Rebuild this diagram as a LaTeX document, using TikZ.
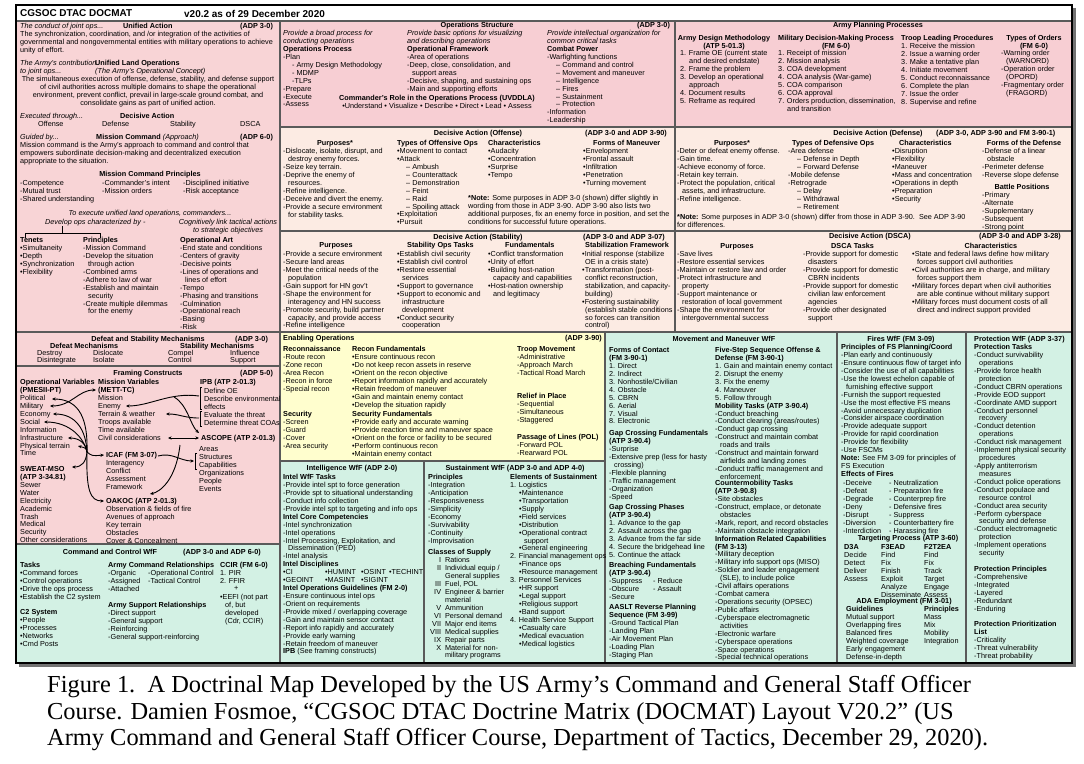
\documentclass[tikz,border=0pt]{standalone}
\usepackage{fontspec}
\setmainfont{Liberation Sans}
\newfontfamily\capfont{Liberation Serif}
\usetikzlibrary{arrows.meta}
\definecolor{pinkL}{HTML}{F8D4D6}
\definecolor{pinkT}{HTML}{F7CED3}
\definecolor{peach}{HTML}{FCEBE3}
\definecolor{yelB}{HTML}{FFFECE}
\definecolor{mint}{HTML}{D3F1E4}
\definecolor{rulec}{HTML}{5A5A5A}
\newcommand{\dfs}{\fontsize{7.3}{7.95}\selectfont}
\newcommand{\myi}{\hspace*{5bp}}
\newcommand{\myii}{\hspace*{9bp}}
\begin{document}
\begin{tikzpicture}[x=1bp,y=-1bp,
  t/.style={anchor=north west,inner sep=0pt,align=left,font=\dfs,yshift=2.8bp},
  tc/.style={t,anchor=north,align=center},
  tb/.style={t,font=\dfs\bfseries},
  tbc/.style={tc,font=\dfs\bfseries},
  sep/.style={draw=rulec,line width=1.1bp},
  arr/.style={line width=0.9bp,-{Stealth[length=3.6bp,width=3.2bp]}},
  arrb/.style={line width=0.9bp,{Stealth[length=3.6bp,width=3.2bp]}-{Stealth[length=3.6bp,width=3.2bp]}},
  brk/.style={line width=0.6bp}]
\useasboundingbox (0,0) rectangle (1084,764);
\fill[white] (0,0) rectangle (1084,764);
% shadow and fills
\fill[black!55] (19,8) rectangle (1076,667);
\fill[white] (16,5) rectangle (1072,21);
\fill[pinkL] (16,21) rectangle (280,544);
\fill[mint] (16,544) rectangle (280,663);
\fill[pinkT] (280,21) rectangle (1072,127);
\fill[peach] (280,127) rectangle (1072,332);
\fill[yelB] (280,332) rectangle (605,461);
\fill[mint] (280,461) rectangle (605,663);
\fill[mint] (605,332) rectangle (1072,663);
% separators
\draw[sep] (16,21) -- (1072,21);
\draw[sep] (280,21) -- (280,663);
\draw[sep] (675,21) -- (675,332);
\draw[sep] (280,127) -- (1072,127);
\draw[sep] (280,231) -- (1072,231);
\draw[sep] (16,332) -- (1072,332);
\draw[sep] (16,366) -- (280,366);
\draw[sep] (16,544) -- (280,544);
\draw[sep] (280,461) -- (605,461);
\draw[sep] (605,332) -- (605,663);
\draw[sep] (424,461) -- (424,663);
\draw[sep] (837,332) -- (837,663);
\draw[sep] (966,332) -- (966,663);
\draw[line width=2.4bp] (16,5) rectangle (1072,663);
% header
\node[anchor=west,inner sep=0pt,font=\fontsize{10}{12}\selectfont\bfseries] (hdr) at (20,13.5) {CGSOC DTAC DOCMAT};
\node[anchor=west,inner sep=0pt,font=\fontsize{10}{12}\selectfont\bfseries] (ver) at (184,13.5) {v20.2 as of 29 December 2020};
% ---------------- left column
\node[t] (ua0) at (20,26) {\textit{The conduct of joint ops...}};
\node[tb] (ua1) at (123,26) {Unified Action};
\node[tb] (ua2) at (240,26) {(ADP 3-0)};
\node[t] (ua3) at (20,34) {The synchronization, coordination, and /or integration of the activities of\\governmental and nongovernmental entities with military operations to achieve\\unity of effort.};
\node[t] (ulo0) at (20,63) {\textit{The Army's contribution}};
\node[tb] (ulo1) at (95,63) {Unified Land Operations};
\node[t] (ulo2) at (20,71) {\textit{to joint ops...}};
\node[t] (ulo3) at (95,71) {\textit{(The Army's Operational Concept)}};
\node[tc] (ulo4) at (148,79) {The simultaneous execution of offense, defense, stability, and defense support\\of civil authorities across multiple domains to shape the operational\\environment, prevent conflict, prevail in large-scale ground combat, and\\consolidate gains as part of unified action.};
\node[t] (dec0) at (20,116) {\textit{Executed through...}};
\node[tb] (dec1) at (120,116) {Decisive Action};
\node[t] (dec2) at (38,124) {Offense};
\node[t] (dec3) at (102,124) {Defense};
\node[t] (dec4) at (170,124) {Stability};
\node[t] (dec5) at (240,124) {DSCA};
\node[t] (mc0) at (20,137) {\textit{Guided by...}};
\node[t] (mc1) at (96,137) {\textbf{Mission Command} \textit{(Approach)}};
\node[tb] (mc2) at (240,137) {(ADP 6-0)};
\node[t] (mc3) at (20,145) {Mission command is the Army's approach to command and control that\\empowers subordinate decision-making and decentralized execution\\appropriate to the situation.};
\node[tbc] (mcp0) at (150,174) {Mission Command Principles};
\node[t] (mcp1) at (20,183) {-Competence\\-Mutual trust\\-Shared understanding};
\node[t] (mcp2) at (102,183) {-Commander's intent\\-Mission orders};
\node[t] (mcp3) at (183,183) {-Disciplined initiative\\-Risk acceptance};
\node[tc] (ex0) at (150,213) {\textit{To execute unified land operations, commanders...}};
\node[t] (ex1) at (45,222) {\textit{Develop ops characterized by -}};
\node[tc] (ex2) at (228,222) {\textit{Cognitively link tactical actions}\\\textit{to strategic objectives}};
\draw[brk] (25,238) -- (25,233) -- (100,233) -- (100,238);
\draw[brk] (62,233) -- (62,226);
\node[t] (ten) at (20,240) {\textbf{Tenets}\\•Simultaneity\\•Depth\\•Synchronization\\•Flexibility};
\node[t] (pri) at (83,240) {\textbf{Principles}\\-Mission Command\\-Develop the situation\\\myi through action\\-Combined arms\\-Adhere to law of war\\-Establish and maintain\\\myi security\\-Create multiple dilemmas\\\myi for the enemy};
\node[t] (opa) at (180,240) {\textbf{Operational Art}\\-End state and conditions\\-Centers of gravity\\-Decisive points\\-Lines of operations and\\\myi lines of effort\\-Tempo\\-Phasing and transitions\\-Culmination\\-Operational reach\\-Basing\\-Risk};
% defeat & stability
\node[tbc] (dsm0) at (148,339) {Defeat and Stability Mechanisms};
\node[tb] (dsm1) at (235,339) {(ADP 3-0)};
\node[tb] (dm0) at (50,346) {Defeat Mechanisms};
\node[tb] (sm0) at (180,346) {Stability Mechanisms};
\node[t,font=\fontsize{7.3}{7.3}\selectfont] (dm1) at (37,353) {Destroy\\Disintegrate};
\node[t,font=\fontsize{7.3}{7.3}\selectfont] (dm2) at (93,353) {Dislocate\\Isolate};
\node[t,font=\fontsize{7.3}{7.3}\selectfont] (sm1) at (168,353) {Compel\\Control};
\node[t,font=\fontsize{7.3}{7.3}\selectfont] (sm2) at (230,353) {Influence\\Support};
% framing constructs
\node[tbc] (fc0) at (148,373) {Framing Constructs};
\node[tb] (fc1) at (240,373) {(ADP 5-0)};
\node[t] (ov) at (20,382) {\textbf{Operational Variables}\\\textbf{(PMESII-PT)}\\Political\\Military\\Economy\\Social\\Information\\Infrastructure\\Physical terrain\\Time};
\node[t] (sw) at (20,469) {\textbf{SWEAT-MSO}\\\textbf{(ATP 3-34.81)}\\Sewer\\Water\\Electricity\\Academic\\Trash\\Medical\\Security\\Other considerations};
\node[t] (mv) at (98,382) {\textbf{Mission Variables}\\\textbf{(METT-TC)}\\Mission\\Enemy\\Terrain \& weather\\Troops available\\Time available\\Civil considerations};
\node[tb] (ipb0) at (200,382) {IPB (ATP 2-01.3)};
\node[t] (ipb1) at (204,391) {Define OE\\Describe environmental\\effects};
\node[t] (ipb2) at (204,414.5) {Evaluate the threat\\Determine threat COAs};
\node[tb] (asc0) at (201,438) {ASCOPE (ATP 2-01.3)};
\node[t] (asc1) at (199,449) {Areas\\Structures\\Capabilities\\Organizations\\People\\Events};
\node[t] (icaf) at (106,455) {\textbf{ICAF (FM 3-07)}\\Interagency\\Conflict\\Assessment\\Framework};
\node[t] (oak) at (106,501) {\textbf{OAKOC (ATP 2-01.3)}\\Observation \& fields of fire\\Avenues of approach\\Key terrain\\Obstacles\\Cover \& Concealment};
\draw[brk] (202,387) -- (200,387) -- (200,409) -- (202,409);
\draw[brk] (202,411) -- (200,411) -- (200,426) -- (202,426);
\draw[brk] (197,453) -- (195,453) -- (195,469) -- (197,469);
\coordinate (cPol) at (52,399);
\coordinate (cMil) at (50,406);
\coordinate (cEco) at (53,414);
\coordinate (cSoc) at (44,422);
\coordinate (cInf) at (68,438);
\coordinate (cPhy) at (78,446);
\coordinate (cMet) at (96,390);
\coordinate (cTr) at (87,452);
\coordinate (cSw) at (72,467);
\coordinate (cIc) at (104,455);
\coordinate (cOa) at (104,501);
\coordinate (cEn) at (126,406);
\coordinate (cTw) at (166,414);
\coordinate (cCc) at (168,438);
\coordinate (cAs) at (199,438);
\coordinate (cB1) at (199,396);
\coordinate (cB2) at (199,418);
\coordinate (cB3) at (194,461);
\draw[arrb] (cMil) .. controls (72,406) and (78,390) .. (cMet);
\draw[arr] (cTr) .. controls (88,420) and (80,399) .. (cPol);
\draw[arr] (cTr) .. controls (86,430) and (76,414) .. (cEco);
\draw[arr] (cTr) .. controls (84,438) and (70,422) .. (cSoc);
\draw[arr] (cTr) .. controls (86,444) and (80,438) .. (cInf);
\draw[arr] (cTr) .. controls (86,448) .. (cPhy);
\draw[arr] (cTr) .. controls (86,462) and (82,467) .. (cSw);
\draw[arr] (cTr) .. controls (92,456) .. (cIc);
\draw[arr] (cTr) .. controls (86,490) and (90,501) .. (cOa);
\draw[arr] (cB1) .. controls (170,392) and (150,406) .. (cEn);
\draw[arr] (cB2) .. controls (184,418) and (180,414) .. (cTw);
\draw[arr] (174,397) .. controls (188,405) and (190,425) .. (199,433);
\draw[arrb] (cCc) -- (cAs);
\draw[arr] (158,456) .. controls (172,452) and (180,461) .. (cB3);
\draw[arr] (180,445) .. controls (176,480) and (160,492) .. (150,494);
% command and control wff
\node[tbc] (c2t) at (110,552) {Command and Control WfF};
\node[tb] (c2a) at (183,552) {(ADP 3-0 and ADP 6-0)};
\node[t] (c2k) at (20,565) {\textbf{Tasks}\\•Command forces\\•Control operations\\•Drive the ops process\\•Establish the C2 system};
\node[t] (c2s) at (20,612) {\textbf{C2 System}\\•People\\•Processes\\•Networks\\•Cmd Posts};
\node[t] (acr) at (108,565) {\textbf{Army Command Relationships}\\-Organic\\-Assigned\\-Attached};
\node[t] (acr2) at (148,573) {-Operational Control\\-Tactical Control};
\node[t] (asr) at (108,605) {\textbf{Army Support Relationships}\\-Direct support\\-General support\\-Reinforcing\\-General support-reinforcing};
\node[t] (ccir) at (220,565) {\textbf{CCIR (FM 6-0)}\\1. PIR\\2. FFIR};
\node[t] (ccp) at (234,589) {+};
\node[t] (eefi) at (220,597) {•EEFI (not part\\\myi of, but\\\myi developed\\\myi (Cdr, CCIR)};
% ---------------- operations structure
\node[tbc] (os0) at (477,25) {Operations Structure};
\node[tb] (os1) at (637,25) {(ADP 3-0)};
\node[t] (opp) at (283,33) {\textit{Provide a broad process for}\\\textit{conducting operations}\\\textbf{Operations Process}\\-Plan\\\myii - Army Design Methodology\\\myii - MDMP\\\myii -TLPs\\-Prepare\\-Execute\\-Assess};
\node[t] (opf) at (407,33) {\textit{Provide basic options for visualizing}\\\textit{and describing operations}\\\textbf{Operational Framework}\\-Area of operations\\-Deep, close, consolidation, and\\\myi support areas\\-Decisive, shaping, and sustaining ops\\-Main and supporting efforts};
\node[t] (cpw) at (547,33) {\textit{Provide intellectual organization for}\\\textit{common critical tasks}\\\textbf{Combat Power}\\-Warfighting functions\\\myii – Command and control\\\myii – Movement and maneuver\\\myii – Intelligence\\\myii – Fires\\\myii – Sustainment\\\myii – Protection\\-Information\\-Leadership};
\node[tc] (uvd) at (437,98) {\textbf{Commander's Role in the Operations Process (UVDDLA)}\\•Understand • Visualize • Describe • Direct • Lead • Assess};
% ---------------- army planning processes
\node[tbc] (app) at (878,25) {Army Planning Processes};
\node[tbc] (adm0) at (724,38) {Army Design Methodology\\(ATP 5-01.3)};
\node[t] (adm1) at (680,53) {1. Frame OE (current state\\\myii and desired endstate)\\2. Frame the problem\\3. Develop an operational\\\myii approach\\4. Document results\\5. Reframe as required};
\node[tbc] (mdm0) at (836,38) {Military Decision-Making Process\\(FM 6-0)};
\node[t] (mdm1) at (778,53) {1. Receipt of mission\\2. Mission analysis\\3. COA development\\4. COA analysis (War-game)\\5. COA comparison\\6. COA approval\\7. Orders production, dissemination,\\\myii and transition};
\node[t] (tlp) at (901,38) {\textbf{Troop Leading Procedures}\\1. Receive the mission\\2. Issue a warning order\\3. Make a tentative plan\\4. Initiate movement\\5. Conduct reconnaissance\\6. Complete the plan\\7. Issue the order\\8. Supervise and refine};
\node[tbc] (too0) at (1034,38) {Types of Orders\\(FM 6-0)};
\node[t] (too1) at (1001,53) {-Warning order\\\myi (WARNORD)\\-Operation order\\\myi (OPORD)\\-Fragmentary order\\\myi (FRAGORD)};
% ---------------- offense
\node[tbc] (off0) at (478,133) {Decisive Action (Offense)};
\node[tb] (off1) at (585,133) {(ADP 3-0 and ADP 3-90)};
\node[tbc] (offp0) at (335,143) {Purposes*};
\node[t] (offp1) at (283,151) {-Dislocate, isolate, disrupt, and\\\myi destroy enemy forces.\\-Seize key terrain.\\-Deprive the enemy of\\\myi resources.\\-Refine intelligence.\\-Deceive and divert the enemy.\\-Provide a secure environment\\\myi for stability tasks.};
\node[t] (offt) at (397,143) {\textbf{Types of Offensive Ops}\\•Movement to contact\\•Attack\\\myii – Ambush\\\myii – Counterattack\\\myii – Demonstration\\\myii – Feint\\\myii – Raid\\\myii – Spoiling attack\\•Exploitation\\•Pursuit};
\node[t] (offc) at (488,143) {\textbf{Characteristics}\\•Audacity\\•Concentration\\•Surprise\\•Tempo};
\node[tb] (offm0) at (593,143) {Forms of Maneuver};
\node[t] (offm1) at (583,151) {•Envelopment\\•Frontal assault\\•Infiltration\\•Penetration\\•Turning movement};
\node[t] (offn) at (468,198) {\textbf{*Note:} Some purposes in ADP 3-0 (shown) differ slightly in\\wording from those in ADP 3-90. ADP 3-90 also lists two\\additional purposes, fix an enemy force in position, and set the\\conditions for successful future operations.};
% ---------------- defense
\node[tbc] (def0) at (878,133) {Decisive Action (Defense)};
\node[tb] (def1) at (936,133) {(ADP 3-0, ADP 3-90 and FM 3-90-1)};
\node[tbc] (defp0) at (732,143) {Purposes*};
\node[t] (defp1) at (677,151) {-Deter or defeat enemy offense.\\-Gain time.\\-Achieve economy of force.\\-Retain key terrain.\\-Protect the population, critical\\\myi assets, and infrastructure.\\-Refine intelligence.};
\node[tb] (deft0) at (792,143) {Types of Defensive Ops};
\node[t] (deft1) at (788,151) {-Area defense\\\myii – Defense in Depth\\\myii – Forward Defense\\-Mobile defense\\-Retrograde\\\myii – Delay\\\myii – Withdrawal\\\myii – Retirement};
\node[tb] (defc0) at (899,143) {Characteristics};
\node[t] (defc1) at (892,151) {•Disruption\\•Flexibility\\•Maneuver\\•Mass and concentration\\•Operations in depth\\•Preparation\\•Security};
\node[tbc] (deff0) at (1024,143) {Forms of the Defense};
\node[t] (deff1) at (982,151) {-Defense of a linear\\\myi obstacle\\-Perimeter defense\\-Reverse slope defense};
\node[tbc] (bp0) at (1022,187) {Battle Positions};
\node[t] (bp1) at (982,195) {-Primary\\-Alternate\\-Supplementary\\-Subsequent\\-Strong point};
\node[t] (defn) at (677,217) {\textbf{*Note:} Some purposes in ADP 3-0 (shown) differ from those in ADP 3-90.\ \ See ADP 3-90\\for differences.};
% ---------------- stability
\node[tbc] (stb0) at (478,237) {Decisive Action (Stability)};
\node[tb] (stb1) at (583,237) {(ADP 3-0 and ADP 3-07)};
\node[tbc] (stbp0) at (336,245) {Purposes};
\node[t] (stbp1) at (283,254) {-Provide a secure environment\\-Secure land areas\\-Meet the critical needs of the\\\myi population\\-Gain support for HN gov't\\-Shape the environment for\\\myi interagency and HN success\\-Promote security, build partner\\\myi capacity, and provide access\\-Refine intelligence};
\node[tb] (stbt0) at (407,245) {Stability Ops Tasks};
\node[t] (stbt1) at (397,254) {•Establish civil security\\•Establish civil control\\•Restore essential\\\myi services\\•Support to governance\\•Support to economic and\\\myi infrastructure\\\myi development\\•Conduct security\\\myi cooperation};
\node[tb] (stbf0) at (505,245) {Fundamentals};
\node[t] (stbf1) at (488,254) {•Conflict transformation\\•Unity of effort\\•Building host-nation\\\myi capacity and capabilities\\•Host-nation ownership\\\myi and legitimacy};
\node[tb] (stbs0) at (585,245) {Stabilization Framework};
\node[t] (stbs1) at (582,254) {•Initial response (stabilize\\\hspace*{3bp}OE in a crisis state)\\•Transformation (post-\\\hspace*{3bp}conflict reconstruction,\\\hspace*{3bp}stabilization, and capacity-\\\hspace*{3bp}building)\\•Fostering sustainability\\\hspace*{3bp}(establish stable conditions\\\hspace*{3bp}so forces can transition\\\hspace*{3bp}control)};
% ---------------- DSCA
\node[tbc] (dsc0) at (870,236) {Decisive Action (DSCA)};
\node[tb] (dsc1) at (979,236) {(ADP 3-0 and ADP 3-28)};
\node[tbc] (dscp0) at (737,246) {Purposes};
\node[t] (dscp1) at (677,254) {-Save lives\\-Restore essential services\\-Maintain or restore law and order\\-Protect infrastructure and\\\myi property\\-Support maintenance or\\\myi restoration of local government\\-Shape the environment for\\\myi intergovernmental success};
\node[tb] (dsct0) at (831,246) {DSCA Tasks};
\node[t] (dsct1) at (803,254) {-Provide support for domestic\\\myi disasters\\-Provide support for domestic\\\myi CBRN incidents\\-Provide support for domestic\\\myi civilian law enforcement\\\myi agencies\\-Provide other designated\\\myi support};
\node[tbc] (dscc0) at (991,246) {Characteristics};
\node[t] (dscc1) at (912,254) {•State and federal laws define how military\\\myi forces support civil authorities\\•Civil authorities are in charge, and military\\\myi forces support them\\•Military forces depart when civil authorities\\\myi are able continue without military support\\•Military forces must document costs of all\\\myi direct and indirect support provided};
% ---------------- enabling operations
\node[tb] (eo0) at (283,338) {Enabling Operations};
\node[tb,anchor=north east] (eo1) at (602,338) {(ADP 3-90)};
\node[t] (rec) at (283,349) {\textbf{Reconnaissance}\\-Route recon\\-Zone recon\\-Area Recon\\-Recon in force\\-Special recon};
\node[t] (secu) at (283,414) {\textbf{Security}\\-Screen\\-Guard\\-Cover\\-Area security};
\node[t] (recf) at (352,349) {\textbf{Recon Fundamentals}\\•Ensure continuous recon\\•Do not keep recon assets in reserve\\•Orient on the recon objective\\•Report information rapidly and accurately\\•Retain freedom of maneuver\\•Gain and maintain enemy contact\\•Develop the situation rapidly};
\node[t] (secf) at (352,414) {\textbf{Security Fundamentals}\\•Provide early and accurate warning\\•Provide reaction time and maneuver space\\•Orient on the force or facility to be secured\\•Perform continuous recon\\•Maintain enemy contact};
\node[t] (trm) at (517,349) {\textbf{Troop Movement}\\-Administrative\\-Approach March\\-Tactical Road March};
\node[t] (rip) at (517,396) {\textbf{Relief in Place}\\-Sequential\\-Simultaneous\\-Staggered};
\node[t] (pasl) at (517,437) {\textbf{Passage of Lines (POL)}\\-Forward POL\\-Rearward POL};
% ---------------- intelligence
\node[tbc] (int0) at (352,468) {Intelligence WfF (ADP 2-0)};
\node[t] (int1) at (283,477) {\textbf{Intel WfF Tasks}\\-Provide intel spt to force generation\\-Provide spt to situational understanding\\-Conduct info collection\\-Provide intel spt to targeting and info ops\\\textbf{Intel Core Competencies}\\-Intel synchronization\\-Intel operations\\-Intel Processing, Exploitation, and\\\myi Dissemination (PED)\\-Intel analysis\\\textbf{Intel Disciplines}\\\makebox[42bp][l]{•CI}\makebox[36bp][l]{•HUMINT}\makebox[28bp][l]{•OSINT}•TECHINT\\\makebox[42bp][l]{•GEOINT}\makebox[36bp][l]{•MASINT}•SIGINT\\\textbf{Intel Operations Guidelines (FM 2-0)}\\-Ensure continuous intel ops\\-Orient on requirements\\-Provide mixed / overlapping coverage\\-Gain and maintain sensor contact\\-Report info rapidly and accurately\\-Provide early warning\\-Retain freedom of maneuver\\\textbf{IPB} (See framing constructs)};
% ---------------- sustainment
\node[tbc] (sus0) at (515,468) {Sustainment WfF (ADP 3-0 and ADP 4-0)};
\node[t] (susp) at (428,477) {\textbf{Principles}\\-Integration\\-Anticipation\\-Responsiveness\\-Simplicity\\-Economy\\-Survivability\\-Continuity\\-Improvisation};
\node[tb] (cos0) at (428,552) {Classes of Supply};
\node[t] (cos1) at (430,560) {\begin{tabular}{@{}r@{\hspace{4bp}}l@{}}I & Rations\\II & Individual equip /\\ & General supplies\\III & Fuel, POL\\IV & Engineer \& barrier\\ & material\\V & Ammunition\\VI & Personal demand\\VII & Major end items\\VIII & Medical supplies\\IX & Repair parts\\X & Material for non-\\ & military programs\end{tabular}};
\node[t] (soe) at (510,477) {\textbf{Elements of Sustainment}\\1. Logistics\\\myii •Maintenance\\\myii •Transportation\\\myii •Supply\\\myii •Field services\\\myii •Distribution\\\myii •Operational contract\\\myii \myi support\\\myii •General engineering\\2. Financial management ops\\\myii •Finance ops\\\myii •Resource management\\3. Personnel Services\\\myii •HR support\\\myii •Legal support\\\myii •Religious support\\\myii •Band support\\4. Health Service Support\\\myii •Casualty care\\\myii •Medical evacuation\\\myii •Medical logistics};
% ---------------- movement and maneuver
\node[tbc] (mm0) at (724,339) {Movement and Maneuver WfF};
\node[t] (foc) at (609,350) {\textbf{Forms of Contact}\\\textbf{(FM 3-90-1)}\\1. Direct\\2. Indirect\\3. Nonhostile/Civilian\\4. Obstacle\\5. CBRN\\6. Aerial\\7. Visual\\8. Electronic};
\node[t] (gcf) at (609,433) {\textbf{Gap Crossing Fundamentals}\\\textbf{(ATP 3-90.4)}\\-Surprise\\-Extensive prep (less for hasty\\\myi crossing)\\-Flexible planning\\-Traffic management\\-Organization\\-Speed};
\node[t] (gcp) at (609,507) {\textbf{Gap Crossing Phases}\\\textbf{(ATP 3-90.4)}\\1. Advance to the gap\\2. Assault across the gap\\3. Advance from the far side\\4. Secure the bridgehead line\\5. Continue the attack};
\node[t] (brf) at (609,565) {\textbf{Breaching Fundamentals}\\\textbf{(ATP 3-90.4)}\\\makebox[44bp][l]{-Suppress}- Reduce\\\makebox[44bp][l]{-Obscure}- Assault\\-Secure};
\node[t] (aas) at (609,607) {\textbf{AASLT Reverse Planning}\\\textbf{Sequence (FM 3-99)}\\-Ground Tactical Plan\\-Landing Plan\\-Air Movement Plan\\-Loading Plan\\-Staging Plan};
\node[t] (fss) at (715,350) {\textbf{Five-Step Sequence Offense \&}\\\textbf{Defense (FM 3-90-1)}\\1. Gain and maintain enemy contact\\2. Disrupt the enemy\\3. Fix the enemy\\4. Maneuver\\5. Follow through\\\textbf{Mobility Tasks (ATP 3-90.4)}\\-Conduct breaching\\-Conduct clearing (areas/routes)\\-Conduct gap crossing\\-Construct and maintain combat\\\myi roads and trails\\-Construct and maintain forward\\\myi airfields and landing zones\\-Conduct traffic management and\\\myi enforcement};
\node[t] (cmt) at (715,483) {\textbf{Countermobility Tasks}\\\textbf{(ATP 3-90.8)}\\-Site obstacles\\-Construct, emplace, or detonate\\\myi obstacles\\-Mark, report, and record obstacles\\-Maintain obstacle integration\\\textbf{Information Related Capabilities}\\\textbf{(FM 3-13)}\\-Military deception\\-Military info support ops (MISO)\\-Soldier and leader engagement\\\myi (SLE), to include police\\-Civil affairs operations\\-Combat camera\\-Operations security (OPSEC)\\-Public affairs\\-Cyberspace electromagnetic\\\myi activities\\-Electronic warfare\\-Cyberspace operations\\-Space operations\\-Special technical operations};
% ---------------- fires
\node[tbc] (fw0) at (901,339) {Fires WfF (FM 3-09)};
\node[t] (fw1) at (841,347) {\textbf{Principles of FS Planning/Coord}\\-Plan early and continuously\\-Ensure continuous flow of target info\\-Consider the use of all capabilities\\-Use the lowest echelon capable of\\\myi furnishing effective support\\-Furnish the support requested\\-Use the most effective FS means\\-Avoid unnecessary duplication\\-Consider airspace coordination\\-Provide adequate support\\-Provide for rapid coordination\\-Provide for flexibility\\-Use FSCMs\\\textbf{Note:} See FM 3-09 for principles of\\FS Execution\\\textbf{Effects of Fires}};
\node[t] (ef1) at (843,483) {-Deceive\\-Defeat\\-Degrade\\-Deny\\-Disrupt\\-Diversion\\-Interdiction};
\node[t] (ef2) at (889,483) {- Neutralization\\- Preparation fire\\- Counterprep fire\\- Defensive fires\\- Suppress\\- Counterbattery fire\\- Harassing fire};
\node[tbc] (tgp) at (908,538) {Targeting Process (ATP 3-60)};
\node[t] (d3a) at (844,547) {\textbf{D3A}\\Decide\\Detect\\Deliver\\Assess};
\node[t] (f3e) at (881,547) {\textbf{F3EAD}\\Find\\Fix\\Finish\\Exploit\\Analyze\\Disseminate};
\node[t] (f2t) at (924,547) {\textbf{F2T2EA}\\Find\\Fix\\Track\\Target\\Engage\\Assess};
\node[tbc] (ada0) at (904,601) {ADA Employment (FM 3-01)};
\node[t] (adg) at (846,609) {\textbf{Guidelines}\\Mutual support\\Overlapping fires\\Balanced fires\\Weighted coverage\\Early engagement\\Defense-in-depth};
\node[t] (adp) at (924,609) {\textbf{Principles}\\Mass\\Mix\\Mobility\\Integration};
% ---------------- protection
\node[tb] (pw0) at (974,339) {Protection WfF (ADP 3-37)};
\node[t] (pw1) at (974,347) {\textbf{Protection Tasks}\\-Conduct survivability\\\myi operations\\-Provide force health\\\myi protection\\-Conduct CBRN operations\\-Provide EOD support\\-Coordinate AMD support\\-Conduct personnel\\\myi recovery\\-Conduct detention\\\myi operations\\-Conduct risk management\\-Implement physical security\\\myi procedures\\-Apply antiterrorism\\\myi measures\\-Conduct police operations\\-Conduct populace and\\\myi resource control\\-Conduct area security\\-Perform cyberspace\\\myi security and defense\\-Conduct electromagnetic\\\myi protection\\-Implement operations\\\myi security};
\node[t] (ppr) at (974,569) {\textbf{Protection Principles}\\-Comprehensive\\-Integrated\\-Layered\\-Redundant\\-Enduring};
\node[t] (ppl) at (974,624) {\textbf{Protection Prioritization}\\\textbf{List}\\-Criticality\\-Threat vulnerability\\-Threat probability};
% ---------------- caption
\node[anchor=base west,inner sep=0pt,font=\capfont\fontsize{24.5}{29}\selectfont] (cap1) at (47,692) {Figure 1.\ \ A Doctrinal Map Developed by the US Army’s Command and General Staff Officer};
\node[anchor=base west,inner sep=0pt,font=\capfont\fontsize{24.5}{29}\selectfont] (cap2) at (47,719) {Course. Damien Fosmoe, “CGSOC DTAC Doctrine Matrix (DOCMAT) Layout V20.2” (US};
\node[anchor=base west,inner sep=0pt,font=\capfont\fontsize{24.5}{29}\selectfont] (cap3) at (47,745) {Army Command and General Staff Officer Course, Department of Tactics, December 29, 2020).};
\end{tikzpicture}
\end{document}
